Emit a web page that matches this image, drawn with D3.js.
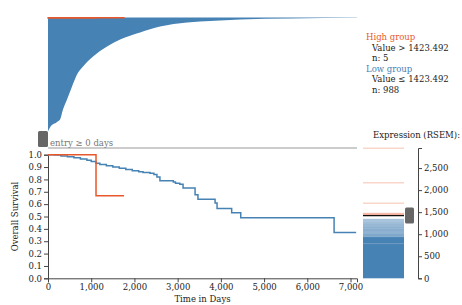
<!DOCTYPE html>
<html>
<head>
  <meta charset="utf-8">
  <title>Survival by expression group</title>
  <script src="https://d3js.org/d3.v7.min.js"></script>
  <style>
    body { margin: 0; background: #fff; font-family: 'DejaVu Serif', serif; }
    .axis text { font-family: 'DejaVu Serif', serif; font-size: 8.5px; fill: #222; }
    .axis path, .axis line { stroke: #444; }
    text { font-family: 'DejaVu Serif', serif; font-size: 8.5px; }
  </style>
</head>
<body>
<div id="chart"></div>
<script>
  // at-risk counts over time (low group)
  const riskDays = [0, 46, 208, 278, 347, 440, 556, 671, 810, 1042, 1366, 1667, 2130, 2593, 3218, 3519, 4444, 5600, 7150];
  const riskLow  = [988, 953, 906, 884, 797, 711, 598, 494, 425, 338, 251, 191, 130, 78, 43, 35, 17, 9, 2];
  const riskHighDays = [0, 1111, 1760];
  const riskHigh = [5, 4, 3];

  // Kaplan-Meier curves
  const kmLowDays = [0, 150, 300, 450, 600, 750, 900, 1000, 1110, 1200, 1350, 1500, 1650, 1800, 1950, 2100, 2200, 2360, 2450, 2520, 2590, 2900, 2950, 3050, 3125, 3403, 3470, 3866, 3912, 4250, 4460, 6620, 7130];
  const kmLow     = [1.0, 0.997, 0.99, 0.983, 0.975, 0.965, 0.955, 0.945, 0.93, 0.92, 0.91, 0.9, 0.89, 0.88, 0.87, 0.862, 0.856, 0.85, 0.84, 0.82, 0.79, 0.78, 0.77, 0.76, 0.73, 0.675, 0.64, 0.61, 0.565, 0.53, 0.49, 0.37, 0.37];
  const kmHighDays = [0, 1111, 1760];
  const kmHigh     = [1.0, 0.667, 0.667];

  // expression values (RSEM)
  const highExpr = [2950, 2165, 1700, 1472, 1455, 1445];
  const threshold = 1423.492;
  const lowExpr = [1335, 1318, 1290, 1270, 1250, 1232, 1215, 1195, 1180, 1160, 1150, 1130, 1120, 1100, 1090, 1075, 1060, 1045, 1030, 1015, 1000, 990, 975, 965, 950, 945, 780];
  const lowDense = [[0, 777], [784, 935]];

  const xTicks = [0, 1000, 2000, 3000, 4000, 5000, 6000, 7000];
  const yTicks = [0, 0.1, 0.2, 0.3, 0.4, 0.5, 0.6, 0.7, 0.8, 0.9, 1.0];
  const exprTicks = [0, 500, 1000, 1500, 2000, 2500];

  const legend = [
    {title: "High group", color: "#e8582c", lines: ["Value > 1423.492", "n: 5"]},
    {title: "Low group", color: "#4682b4", lines: ["Value \u2264 1423.492", "n: 988"]}
  ];

  const blue = "#4682b4", red = "#e8582c";

  const svg = d3.select("#chart").append("svg")
    .attr("width", 462).attr("height", 305);

  const x = d3.scaleLinear().domain([0, 7150]).range([48, 357]);
  const yKM = d3.scaleLinear().domain([0, 1]).range([278.3, 154.7]);
  const yRisk = d3.scaleLinear().domain([0, 993]).range([17.5, 132]);
  const yExpr = d3.scaleLinear().domain([0, 2955]).range([278.3, 148]);

  // top panel: patients at risk hanging from top
  const riskData = riskDays.map((d, i) => ({t: d, n: riskLow[i]}));
  svg.append("path")
    .datum(riskData)
    .attr("fill", blue)
    .attr("d", d3.area().x(d => x(d.t)).y0(yRisk(0)).y1(d => yRisk(d.n)).curve(d3.curveMonotoneX));

  const riskHighData = riskHighDays.map((d, i) => ({t: d, n: riskHigh[i]}));
  svg.append("path")
    .datum(riskHighData)
    .attr("fill", red)
    .attr("stroke", red)
    .attr("stroke-width", 1.2)
    .attr("d", d3.area().x(d => x(d.t)).y0(yRisk(0)).y1(d => yRisk(d.n)).curve(d3.curveStepAfter));

  // entry line + handle
  svg.append("line")
    .attr("x1", x(0)).attr("x2", x(7150))
    .attr("y1", 148).attr("y2", 148)
    .attr("stroke", "#bbb").attr("stroke-width", 1.5);
  svg.append("rect")
    .attr("x", 38).attr("y", 131).attr("width", 10).attr("height", 16)
    .attr("rx", 1.5).attr("fill", "#666");
  svg.append("text")
    .attr("x", 50).attr("y", 146)
    .attr("fill", "#777")
    .text("entry \u2265 0 days");

  // KM axes
  svg.append("g").attr("class", "axis")
    .attr("transform", "translate(0," + yKM(0) + ")")
    .call(d3.axisBottom(x).tickValues(xTicks).tickFormat(d3.format(",")).tickSize(4).tickPadding(2));
  svg.append("g").attr("class", "axis")
    .attr("transform", "translate(" + x(0) + ",0)")
    .call(d3.axisLeft(yKM).tickValues(yTicks).tickFormat(d3.format(".1f")).tickSize(4).tickPadding(2));

  svg.append("text")
    .attr("x", (x.range()[0] + x.range()[1]) / 2).attr("y", 302)
    .attr("text-anchor", "middle").attr("fill", "#222")
    .text("Time in Days");
  svg.append("text")
    .attr("transform", "translate(18," + yKM(0.5) + ") rotate(-90)")
    .attr("text-anchor", "middle").attr("fill", "#222")
    .text("Overall Survival");

  // KM curves
  const km = d3.line().x(d => x(d.t)).y(d => yKM(d.s)).curve(d3.curveStepAfter);
  svg.append("path")
    .datum(kmLowDays.map((d, i) => ({t: d, s: kmLow[i]})))
    .attr("fill", "none").attr("stroke", blue).attr("stroke-width", 1.5)
    .attr("d", km);
  svg.append("path")
    .datum(kmHighDays.map((d, i) => ({t: d, s: kmHigh[i]})))
    .attr("fill", "none").attr("stroke", red).attr("stroke-width", 1.5)
    .attr("d", km);

  // legend
  let ly = 40;
  legend.forEach(g => {
    svg.append("text").attr("x", 366).attr("y", ly).attr("fill", g.color).text(g.title);
    ly += 10.5;
    g.lines.forEach(l => {
      svg.append("text").attr("x", 372).attr("y", ly).attr("fill", "#222").text(l);
      ly += 10.5;
    });
  });

  // expression panel
  svg.append("text")
    .attr("x", 460).attr("y", 138)
    .attr("text-anchor", "end").attr("fill", "#222")
    .text("Expression (RSEM):");

  const ex0 = 363, ex1 = 404;
  svg.selectAll("rect.dense")
    .data(lowDense)
    .enter().append("rect")
    .attr("class", "dense")
    .attr("x", ex0).attr("width", ex1 - ex0)
    .attr("y", d => yExpr(d[1])).attr("height", d => yExpr(d[0]) - yExpr(d[1]))
    .attr("fill", blue);

  svg.selectAll("line.low")
    .data(lowExpr)
    .enter().append("line")
    .attr("class", "low")
    .attr("x1", ex0).attr("x2", ex1)
    .attr("y1", d => yExpr(d)).attr("y2", d => yExpr(d))
    .attr("stroke", blue).attr("stroke-opacity", 0.35).attr("stroke-width", 1.5);

  svg.selectAll("line.high")
    .data(highExpr)
    .enter().append("line")
    .attr("class", "high")
    .attr("x1", ex0).attr("x2", ex1)
    .attr("y1", d => yExpr(d)).attr("y2", d => yExpr(d))
    .attr("stroke", red).attr("stroke-opacity", 0.25).attr("stroke-width", 1.5);

  svg.append("line")
    .attr("x1", ex0).attr("x2", ex1)
    .attr("y1", yExpr(threshold)).attr("y2", yExpr(threshold))
    .attr("stroke", "#111").attr("stroke-width", 1.3);

  svg.append("g").attr("class", "axis")
    .attr("transform", "translate(418,0)")
    .call(d3.axisRight(yExpr).tickValues(exprTicks).tickFormat(d3.format(",")).tickSize(4).tickPadding(2));

  svg.append("rect")
    .attr("x", 405).attr("y", yExpr(threshold) - 8).attr("width", 9).attr("height", 16)
    .attr("rx", 1.5).attr("fill", "#666");
</script>
</body>
</html>
